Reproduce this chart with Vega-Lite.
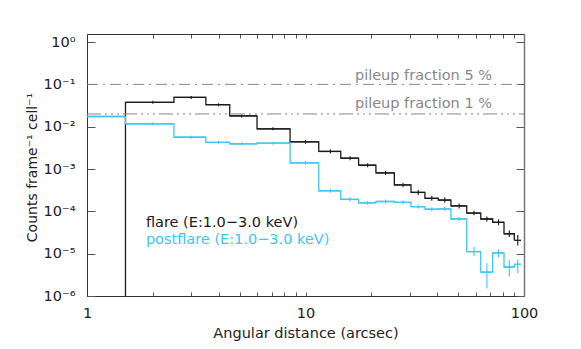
{
  "$schema": "https://vega.github.io/schema/vega-lite/v6.json",
  "autosize": "none",
  "width": 437,
  "height": 262,
  "padding": {"left": 87, "top": 34, "right": 57, "bottom": 53},
  "background": "white",
  "config": {
    "view": {"stroke": null},
    "font": "DejaVu Sans",
    "axis": {"grid": false, "domainColor": "#333333", "tickColor": "#555555", "labelColor": "#222222", "titleColor": "#222222", "labelFont": "DejaVu Sans", "titleFont": "DejaVu Sans", "titleFontWeight": "normal", "labelOverlap": false, "labelFlush": false}
  },
  "datasets": {
    "bins": [
      {"s": "flare", "x0": 1, "x1": 1.5, "xc": 1.25, "y": 1e-7, "lo": 1e-7, "hi": 1e-7},
      {"s": "flare", "x0": 1.5, "x1": 2.5, "xc": 2.0, "y": 0.0376, "lo": 0.0347, "hi": 0.0408},
      {"s": "flare", "x0": 2.5, "x1": 3.5, "xc": 3.0, "y": 0.0493, "lo": 0.0454, "hi": 0.0535},
      {"s": "flare", "x0": 3.5, "x1": 4.5, "xc": 4.0, "y": 0.0331, "lo": 0.0305, "hi": 0.0359},
      {"s": "flare", "x0": 4.5, "x1": 6.0, "xc": 5.1, "y": 0.018, "lo": 0.0166, "hi": 0.0195},
      {"s": "flare", "x0": 6.0, "x1": 8.5, "xc": 7.1, "y": 0.0089, "lo": 0.0082, "hi": 0.0097},
      {"s": "flare", "x0": 8.5, "x1": 11.5, "xc": 10.0, "y": 0.0044, "lo": 0.00395, "hi": 0.0049},
      {"s": "flare", "x0": 11.5, "x1": 14.5, "xc": 13.0, "y": 0.0026, "lo": 0.00233, "hi": 0.0029},
      {"s": "flare", "x0": 14.5, "x1": 17.5, "xc": 16.0, "y": 0.0018, "lo": 0.00161, "hi": 0.00201},
      {"s": "flare", "x0": 17.5, "x1": 21.0, "xc": 19.25, "y": 0.00123, "lo": 0.0011, "hi": 0.00137},
      {"s": "flare", "x0": 21.0, "x1": 25.5, "xc": 23.25, "y": 0.00081, "lo": 0.000726, "hi": 0.000903},
      {"s": "flare", "x0": 25.5, "x1": 30.4, "xc": 27.95, "y": 0.00042, "lo": 0.000373, "hi": 0.000473},
      {"s": "flare", "x0": 30.4, "x1": 35.2, "xc": 32.8, "y": 0.00028, "lo": 0.000244, "hi": 0.000321},
      {"s": "flare", "x0": 35.2, "x1": 40.5, "xc": 37.85, "y": 0.000203, "lo": 0.000177, "hi": 0.000233},
      {"s": "flare", "x0": 40.5, "x1": 46.3, "xc": 43.4, "y": 0.000185, "lo": 0.000161, "hi": 0.000212},
      {"s": "flare", "x0": 46.3, "x1": 54.7, "xc": 50.5, "y": 0.000134, "lo": 0.000117, "hi": 0.000154},
      {"s": "flare", "x0": 54.7, "x1": 63.4, "xc": 59.05, "y": 0.0000912, "lo": 0.0000805, "hi": 0.0001033},
      {"s": "flare", "x0": 63.4, "x1": 71.9, "xc": 67.65, "y": 0.0000659, "lo": 0.0000575, "hi": 0.0000755},
      {"s": "flare", "x0": 71.9, "x1": 81.0, "xc": 76.45, "y": 0.0000551, "lo": 0.0000468, "hi": 0.0000649},
      {"s": "flare", "x0": 81.0, "x1": 90.3, "xc": 85.65, "y": 0.0000296, "lo": 0.0000247, "hi": 0.0000354},
      {"s": "flare", "x0": 90.3, "x1": 97.0, "xc": 93.65, "y": 0.0000207, "lo": 0.0000155, "hi": 0.0000276},
      {"s": "postflare", "x0": 1, "x1": 1.5, "xc": 1.25, "y": 0.0174, "lo": 0.0174, "hi": 0.0174},
      {"s": "postflare", "x0": 1.5, "x1": 2.5, "xc": 2.0, "y": 0.0117, "lo": 0.0108, "hi": 0.0127},
      {"s": "postflare", "x0": 2.5, "x1": 3.5, "xc": 3.0, "y": 0.00564, "lo": 0.0052, "hi": 0.00612},
      {"s": "postflare", "x0": 3.5, "x1": 4.5, "xc": 4.0, "y": 0.00427, "lo": 0.00394, "hi": 0.00463},
      {"s": "postflare", "x0": 4.5, "x1": 6.0, "xc": 5.1, "y": 0.00394, "lo": 0.00363, "hi": 0.00427},
      {"s": "postflare", "x0": 6.0, "x1": 8.5, "xc": 7.1, "y": 0.00409, "lo": 0.00377, "hi": 0.00444},
      {"s": "postflare", "x0": 8.5, "x1": 11.5, "xc": 10.0, "y": 0.0014, "lo": 0.00126, "hi": 0.00156},
      {"s": "postflare", "x0": 11.5, "x1": 14.5, "xc": 13.0, "y": 0.000307, "lo": 0.000275, "hi": 0.000342},
      {"s": "postflare", "x0": 14.5, "x1": 17.5, "xc": 16.0, "y": 0.000192, "lo": 0.000172, "hi": 0.000214},
      {"s": "postflare", "x0": 17.5, "x1": 21.0, "xc": 19.25, "y": 0.000159, "lo": 0.000143, "hi": 0.000177},
      {"s": "postflare", "x0": 21.0, "x1": 25.5, "xc": 23.25, "y": 0.000171, "lo": 0.000153, "hi": 0.000191},
      {"s": "postflare", "x0": 25.5, "x1": 30.4, "xc": 27.95, "y": 0.000163, "lo": 0.000146, "hi": 0.000182},
      {"s": "postflare", "x0": 30.4, "x1": 35.2, "xc": 32.8, "y": 0.000129, "lo": 0.000116, "hi": 0.000144},
      {"s": "postflare", "x0": 35.2, "x1": 40.5, "xc": 37.85, "y": 0.000112, "lo": 0.0001, "hi": 0.000125},
      {"s": "postflare", "x0": 40.5, "x1": 46.3, "xc": 43.4, "y": 0.000114, "lo": 0.000102, "hi": 0.000127},
      {"s": "postflare", "x0": 46.3, "x1": 54.7, "xc": 50.5, "y": 0.0000659, "lo": 0.0000591, "hi": 0.0000735},
      {"s": "postflare", "x0": 54.7, "x1": 63.4, "xc": 59.05, "y": 0.0000112, "lo": 0.0000088, "hi": 0.0000146},
      {"s": "postflare", "x0": 63.4, "x1": 71.9, "xc": 67.65, "y": 0.00000365, "lo": 0.00000152, "hi": 0.0000059},
      {"s": "postflare", "x0": 71.9, "x1": 81.0, "xc": 76.45, "y": 0.0000104, "lo": 0.0000082, "hi": 0.0000127},
      {"s": "postflare", "x0": 81.0, "x1": 90.3, "xc": 85.65, "y": 0.00000484, "lo": 0.00000285, "hi": 0.00000708},
      {"s": "postflare", "x0": 90.3, "x1": 97.0, "xc": 93.65, "y": 0.00000564, "lo": 0.00000344, "hi": 0.00000735}
    ],
    "pileup": [
      {"v": 0.1, "f": "5", "tx": 71.4, "ty": 0.126, "t": "pileup fraction 5 %"},
      {"v": 0.02, "f": "1", "tx": 71.4, "ty": 0.0271, "t": "pileup fraction 1 %"}
    ],
    "legend": [
      {"s": "flare", "x": 1.86, "y": 0.0000438, "t": "flare (E:1.0−3.0 keV)"},
      {"s": "postflare", "x": 1.86, "y": 0.0000169, "t": "postflare (E:1.0−3.0 keV)"}
    ]
  },
  "layer": [
    {
      "data": {"name": "bins"},
      "mark": {"type": "rule", "clip": true, "strokeWidth": 1.3},
      "encoding": {
        "x": {"field": "x0", "type": "quantitative",
          "scale": {"type": "log", "domain": [1, 100], "nice": false},
          "axis": {"orient": "bottom", "values": [1,2,3,4,5,6,7,8,9,10,20,30,40,50,60,70,80,90,100],
            "labelExpr": "datum.value == 1 ? '1' : datum.value == 10 ? '10' : datum.value == 100 ? '100' : ''",
            "tickSize": -4, "labelPadding": 14, "labelFontSize": 14.5, "labelBaseline": "top",
            "title": "Angular distance (arcsec)", "titleFontSize": 14.5, "titleX": 218.5, "titleY": 41, "titleBaseline": "alphabetic", "titleAlign": "center"}},
        "x2": {"field": "x1"},
        "y": {"field": "y", "type": "quantitative",
          "scale": {"type": "log", "domain": [0.000001, 1.55], "nice": false},
          "axis": {"orient": "left", "values": [0.000001, 0.00001, 0.0001, 0.001, 0.01, 0.1, 1],
            "labelExpr": "'10' + (round(log(datum.value)/LN10) == 0 ? '⁰' : '⁻' + ['','¹','²','³','⁴','⁵','⁶'][-round(log(datum.value)/LN10)])",
            "tickSize": -8, "labelPadding": 20, "labelFontSize": 14.5, "labelAlign": "right", "labelBaseline": "middle",
            "title": "Counts frame⁻¹ cell⁻¹", "titleFontSize": 14, "titleX": -50.5, "titleY": 133, "titleAngle": -90, "titleAlign": "center", "titleBaseline": "alphabetic"}},
        "color": {"field": "s", "type": "nominal", "scale": {"domain": ["flare", "postflare"], "range": ["#1a1a1a", "#3cc6f4"]}, "legend": null}
      }
    },
    {
      "data": {"name": "bins"},
      "mark": {"type": "line", "interpolate": "step-after", "clip": true, "strokeWidth": 1.3},
      "encoding": {
        "x": {"field": "x0", "type": "quantitative", "axis": null},
        "y": {"field": "y", "type": "quantitative", "axis": null},
        "color": {"field": "s", "type": "nominal", "legend": null}
      }
    },
    {
      "data": {"name": "bins"},
      "mark": {"type": "rule", "clip": true, "strokeWidth": 1.1},
      "encoding": {
        "x": {"field": "xc", "type": "quantitative", "axis": null},
        "y": {"field": "lo", "type": "quantitative", "axis": null},
        "y2": {"field": "hi"},
        "color": {"field": "s", "type": "nominal", "legend": null}
      }
    },
    {
      "data": {"name": "pileup"},
      "mark": {"type": "rule", "color": "#888888", "strokeWidth": 1},
      "encoding": {
        "x": {"datum": 1, "type": "quantitative",
          "axis": {"orient": "top", "values": [1,2,3,4,5,6,7,8,9,10,20,30,40,50,60,70,80,90,100], "labels": false, "tickSize": -4, "title": null}},
        "x2": {"datum": 100},
        "y": {"field": "v", "type": "quantitative",
          "axis": {"orient": "right", "values": [0.000001, 0.00001, 0.0001, 0.001, 0.01, 0.1, 1], "labels": false, "tickSize": -8, "title": null, "domainColor": "#777777", "domainWidth": 1.5}},
        "strokeDash": {"field": "f", "type": "nominal", "scale": {"domain": ["5", "1"], "range": [[11, 5, 2, 5], [14, 4, 2, 4, 2, 4, 2, 4]]}, "legend": null}
      }
    },
    {
      "data": {"name": "pileup"},
      "mark": {"type": "text", "align": "right", "baseline": "alphabetic", "fontSize": 14.5, "color": "#888888"},
      "encoding": {
        "x": {"field": "tx", "type": "quantitative", "axis": null},
        "y": {"field": "ty", "type": "quantitative", "axis": null},
        "text": {"field": "t"}
      }
    },
    {
      "data": {"name": "legend"},
      "mark": {"type": "text", "align": "left", "baseline": "alphabetic", "fontSize": 14.5},
      "encoding": {
        "x": {"field": "x", "type": "quantitative", "axis": null},
        "y": {"field": "y", "type": "quantitative", "axis": null},
        "text": {"field": "t"},
        "color": {"field": "s", "type": "nominal", "legend": null}
      }
    }
  ],
  "resolve": {"axis": {"x": "independent", "y": "independent"}}
}
